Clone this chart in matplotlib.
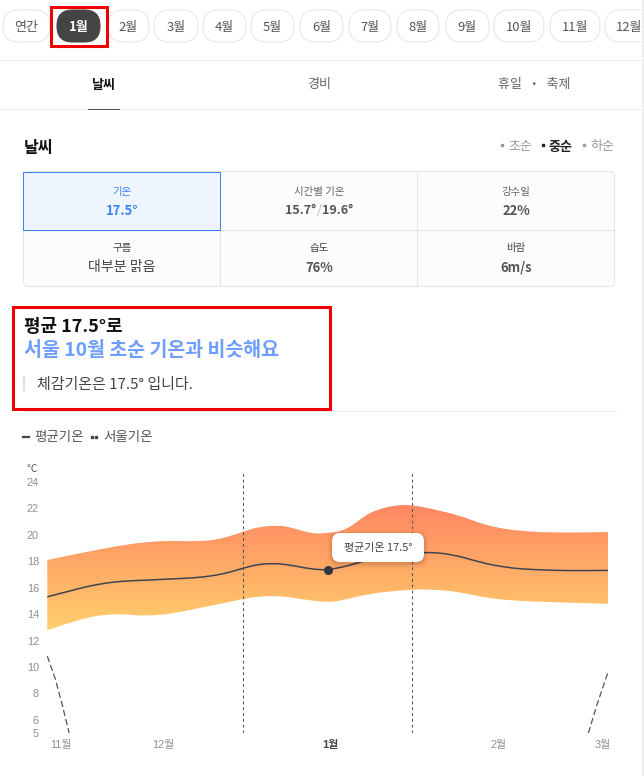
#Import packages and graph configuration
import numpy as np
import matplotlib
matplotlib.use("Agg")
import matplotlib.pyplot as plt
from matplotlib.colors import LinearSegmentedColormap
from matplotlib.patches import FancyBboxPatch, PathPatch, Rectangle
from matplotlib.path import Path

plt.rcParams["font.family"] = ["Noto Sans CJK KR", "DejaVu Sans"]

#Chart data. x is days from the middle of January
upper_x = [-50.5, -44.1, -36.3, -32.1, -28, -23.8, -20.2, -17.3, -15.5, -13, -9.5, -7.1, -3.2, 0, 1.8, 4.1, 5.9, 8.4, 12, 14.6, 18.4, 23.2, 26.8, 29.8, 33.9, 39.8, 49.6]
upper_t = [18.1, 18.67, 19.28, 19.48, 19.56, 19.5, 19.63, 19.98, 20.24, 20.59, 20.72, 20.59, 20.06, 20.16, 20.24, 20.74, 21.37, 21.93, 22.26, 22.26, 21.95, 21.45, 20.87, 20.54, 20.29, 20.16, 20.21]
lower_x = [-50.5, -47, -43.4, -39.8, -37, -32.7, -28, -23.2, -18.4, -15.5, -12.5, -8.4, -5.4, -2.3, 0, 1.8, 7.1, 14.6, 18.4, 23.2, 28, 33.9, 42.9, 49.6]
lower_t = [12.79, 13.27, 13.75, 13.97, 14.0, 13.85, 14.05, 14.48, 14.88, 15.16, 15.36, 15.36, 15.16, 14.96, 14.92, 15.0, 15.57, 15.87, 15.87, 15.67, 15.21, 14.98, 14.86, 14.78]
mean_x = [-50.5, -47, -43.4, -39.8, -37, -32.7, -29.1, -23.8, -20.2, -17.9, -15.5, -13, -10.2, -7.7, -4.1, -1.8, -0.4, 2.3, 5.4, 9.8, 16.8, 22, 26.8, 31.6, 36.3, 42.9, 49.6]
mean_t = [15.31, 15.69, 16.1, 16.37, 16.5, 16.57, 16.65, 16.75, 16.95, 17.18, 17.48, 17.76, 17.84, 17.76, 17.46, 17.36, 17.36, 17.56, 17.94, 18.5, 18.72, 18.52, 17.91, 17.51, 17.36, 17.28, 17.31]
seoul_left_x = [-50.5, -49.1, -47.9, -46.6]
seoul_left_t = [10.82, 9.13, 7.23, 5.0]
seoul_right_x = [46.1, 47.6, 49.6]
seoul_right_t = [5.0, 7.1, 9.6]
marker_x = [-0.4]
marker_t = [17.36]
period_edges = [-15.5, 14.6]
y_ticks = [24, 22, 20, 18, 16, 14, 12, 10, 8, 6, 5]
month_ticks = [-48, -29.8, 0, 30, 48.6]
month_labels = ["11월", "12월", "1월", "2월", "3월"]

#Page texts
pill_labels = ["연간", "1월", "2월", "3월", "4월", "5월", "6월", "7월", "8월", "9월", "10월", "11월", "12월"]
pill_edges = [(3, 50), (57, 100), (108, 149), (154, 198), (203, 246), (251, 294), (300, 343), (349, 391), (397, 439), (446, 489), (494, 544), (550, 600), (605, 655)]

W, H = 644, 776
fig = plt.figure(figsize=(W / 100, H / 100), dpi=100, facecolor="white")


#Font size in pixels of the screenshot
def px(size):
    return size * 0.72


#Rounded line: the readings are control points, midpoints lie on the curve
def smooth_verts(xs, ys):
    pts = np.column_stack([xs, ys])
    verts = [pts[0]]
    codes = [Path.LINETO]
    for i in range(1, len(pts) - 1):
        verts += [pts[i], (pts[i] + pts[i + 1]) / 2]
        codes += [Path.CURVE3, Path.CURVE3]
    verts.append(pts[-1])
    codes.append(Path.LINETO)
    return verts, codes


#Chart axes, placed so 24 and 5 land on the reference pixels
y_top_px, y_bottom_px = 472, 733
ax = fig.add_axes([47.3 / W, 1 - y_bottom_px / H, (608 - 47.3) / W, (y_bottom_px - y_top_px) / H], zorder=1)
for s in ax.spines.values():
    s.set_visible(False)
ax.patch.set_visible(False)

#Gradient band clipped to the range outline
top_v, top_c = smooth_verts(upper_x, upper_t)
low_v, low_c = smooth_verts(lower_x[::-1], lower_t[::-1])
top_c[0] = Path.MOVETO
band_path = Path(top_v + low_v + [top_v[0]], top_c + low_c + [Path.CLOSEPOLY])
band = PathPatch(band_path, fc="none", ec="none")
ax.add_patch(band)
cmap = LinearSegmentedColormap.from_list("band", ["#FF8662", "#FFCF6C"])
grad = np.linspace(0, 1, 256).reshape(-1, 1)
im = ax.imshow(grad, cmap=cmap, aspect="auto", extent=(-50.5, 49.6, 12.7, 22.3), origin="upper", zorder=1)
im.set_clip_path(band)

mean_v, mean_c = smooth_verts(mean_x, mean_t)
mean_c[0] = Path.MOVETO
ax.add_patch(PathPatch(Path(mean_v, mean_c), fc="none", ec="#3F4450", lw=1.1, zorder=3))
ax.plot(seoul_left_x, seoul_left_t, color="#555555", lw=0.9, dashes=(5, 2.5), zorder=3)
ax.plot(seoul_right_x, seoul_right_t, color="#555555", lw=0.9, dashes=(5, 2.5), zorder=3)
for edge in period_edges:
    ax.axvline(edge, color="#555555", lw=0.75, dashes=(2.8, 2.8), zorder=4)
ax.plot(marker_x, marker_t, "o", color="#333840", ms=5.5, zorder=5)

ax.set_xlim(-50.5, 49.6)
ax.set_ylim(5, 24 + (482 - y_top_px) / 13.2)
ax.set_yticks(y_ticks)
ax.set_xticks(month_ticks, month_labels)
ax.tick_params(axis="y", length=0, pad=6, labelsize=px(11), labelcolor="#8F8F8F")
ax.tick_params(axis="x", length=0, pad=5, labelsize=px(11), labelcolor="#8F8F8F")
for t in ax.get_yticklabels() + ax.get_xticklabels():
    t.set_fontfamily(["Liberation Sans", "Noto Sans CJK KR"])
lbl = ax.get_xticklabels()[2]
lbl.set_color("#444444")
lbl.set_fontweight("bold")

#Page overlay in pixel coordinates
ui = fig.add_axes([0, 0, 1, 1], zorder=2)
ui.set_xlim(0, W)
ui.set_ylim(H, 0)
ui.axis("off")

HAIR = 0.75


def label(x, y, s, size, color="#444444", ha="center", weight="normal"):
    ui.text(x, y + 1.5, s, fontsize=px(size), color=color, ha=ha, va="center", fontweight=weight)


def box(x0, y0, x1, y1, radius, fc, ec, lw=HAIR, z=1):
    p = FancyBboxPatch((x0 + radius, y0 + radius), x1 - x0 - 2 * radius, y1 - y0 - 2 * radius,
                       boxstyle=f"round,pad={radius},rounding_size={radius}", fc=fc, ec=ec, lw=lw, zorder=z)
    ui.add_patch(p)
    return p


#Month pills
for i, (name, (x0, x1)) in enumerate(zip(pill_labels, pill_edges)):
    if i == 1:
        box(x0, 10, x1, 42, 15.5, "#444444", "#444444")
        label((x0 + x1) / 2, 26, name, 13, "white", weight="bold")
    else:
        box(x0, 10, x1, 42, 15.5, "white", "#E6E6E6")
        label((x0 + x1) / 2 if i < 12 else 629.5, 26, name, 13, "#555555")
ui.add_patch(Rectangle((51.5, 6.5), 55.5, 39, fc="none", ec="#F00000", lw=2.2, zorder=6))

#Tabs
ui.plot([0, 642], [60, 60], color="#EEEEEE", lw=HAIR)
ui.plot([0, 642], [109, 109], color="#EEEEEE", lw=HAIR)
ui.plot([88, 119], [109, 109], color="#555555", lw=HAIR)
label(104, 83, "날씨", 13, "#111111", weight="bold")
label(319, 83, "경비", 13, "#666666")
label(534, 83, "휴일  ・  축제", 13, "#666666")

#Section header
label(24, 146, "날씨", 16, "#111111", ha="left", weight="bold")
for bx, name, col, w in [(502, "초순", "#999999", "normal"), (543, "중순", "#222222", "bold"), (584, "하순", "#999999", "normal")]:
    ui.plot([bx], [145], "s", color=col, ms=1.6)
    label(bx + 6, 145, name, 13, col, ha="left", weight=w)

#Info table
box(23.5, 171.5, 614.5, 286.5, 5, "#FCFCFC", "#E5E5E5")
for vx in (220.5, 417.5):
    ui.plot([vx, vx], [172, 286], color="#E5E5E5", lw=HAIR, zorder=2)
ui.plot([24, 614], [229.5, 229.5], color="#E5E5E5", lw=HAIR, zorder=2)
ui.add_patch(Rectangle((23.5, 172), 197, 57.5, fc="#EEF5FF", ec="#3B82F6", lw=HAIR, zorder=3))
label(122, 190, "기온", 10.5, "#3B82F6")
label(122, 209.5, "17.5°", 13, "#3B82F6", weight="bold")
label(319, 190, "시간별 기온", 10.5, "#666666")
label(316, 209.5, "15.7°", 12.5, "#555555", ha="right", weight="bold")
label(319, 209.5, "/", 13, "#BBBBBB")
label(322, 209.5, "19.6°", 12.5, "#555555", ha="left", weight="bold")
label(516, 190, "강수일", 10.5, "#666666")
label(516, 209.5, "22%", 13, "#555555", weight="bold")
label(122, 247, "구름", 10.5, "#444444")
label(122, 266, "대부분 맑음", 14, "#444444")
label(319, 247, "습도", 10.5, "#444444")
label(319, 266.5, "76%", 13, "#555555", weight="bold")
label(516, 247, "바람", 10.5, "#444444")
label(516, 266.5, "6m/s", 13, "#555555", weight="bold")

#Headline
ui.add_patch(Rectangle((13.5, 306.5), 317, 102.5, fc="none", ec="#F00000", lw=2.2, zorder=6))
label(24, 326, "평균 17.5°로", 18, "#111111", ha="left", weight="bold")
label(24, 349.5, "서울 10월 초순 기온과 비슷해요", 19.5, "#6E9EFF", ha="left", weight="bold")
ui.add_patch(Rectangle((23, 376), 2, 15, fc="#DDDDDD", ec="none"))
label(37, 383, "체감기온은 17.5° 입니다.", 15, "#444444", ha="left")
ui.plot([24, 616], [411, 411], color="#EEEEEE", lw=HAIR)

#Legend
ui.plot([23, 29], [436.5, 436.5], color="#444444", lw=1.6)
label(34, 435, "평균기온", 13.5, "#555555", ha="left")
ui.plot([92.5, 96.5], [436.5, 436.5], "s", color="#444444", ms=2)
label(103, 435, "서울기온", 13.5, "#555555", ha="left")
label(37.5, 467.5, "℃", 10.5, "#555555", ha="right")

#Tooltip with soft shadow
for grow, alpha in [(5, 0.02), (3.5, 0.03), (2, 0.04), (1, 0.05)]:
    box(332 - grow, 533 - grow + 1.5, 424 + grow, 562 + grow + 1.5, 8 + grow, "black", "none", lw=0, z=7).set_alpha(alpha)
box(332, 533, 424, 562, 8, "white", "none", lw=0, z=8)
ui.text(378, 548.5, "평균기온 17.5°", fontsize=px(11), color="#444444", ha="center", va="center", zorder=9)

#Scrollbar edge
ui.add_patch(Rectangle((642.5, 0), 1.5, H, fc="#EFEFEF", ec="none", zorder=10))

fig.savefig("out.png", dpi=100)
